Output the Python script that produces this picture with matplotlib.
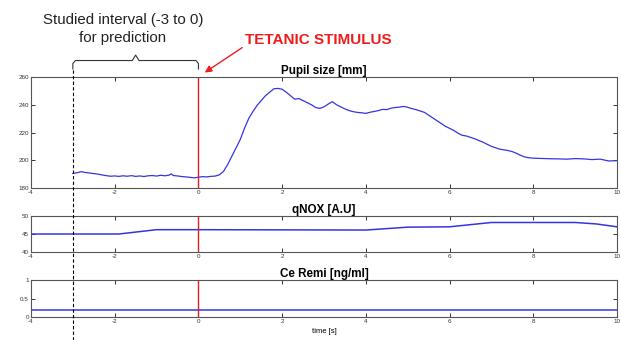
import matplotlib
matplotlib.use("Agg")
import matplotlib.pyplot as plt
import matplotlib.transforms as mtransforms
from matplotlib.lines import Line2D

plt.rcParams['font.family'] = ['Liberation Sans', 'DejaVu Sans']
plt.rcParams['axes.unicode_minus'] = False

# pupil size [mm] against time [s]
pupil_t = [-3.0, -2.9, -2.8, -2.7, -2.6, -2.5, -2.4, -2.3, -2.2, -2.1, -2.0, -1.9, -1.8, -1.7,
           -1.6, -1.5, -1.4, -1.3, -1.2, -1.1, -1.0, -0.9, -0.8, -0.7, -0.65, -0.6, -0.5, -0.4,
           -0.3, -0.2, -0.1, 0.0, 0.1, 0.2, 0.3, 0.4, 0.5, 0.6, 0.7, 0.8, 0.9, 1.0, 1.1, 1.2,
           1.3, 1.4, 1.5, 1.6, 1.7, 1.8, 1.9, 2.0, 2.1, 2.2, 2.3, 2.4, 2.5, 2.6, 2.7, 2.8, 2.9,
           3.0, 3.1, 3.2, 3.3, 3.4, 3.5, 3.6, 3.7, 3.8, 3.9, 4.0, 4.1, 4.2, 4.3, 4.4, 4.5, 4.6,
           4.7, 4.8, 4.9, 5.0, 5.1, 5.2, 5.3, 5.4, 5.5, 5.6, 5.7, 5.8, 5.9, 6.0, 6.1, 6.2, 6.3,
           6.4, 6.5, 6.6, 6.7, 6.8, 6.9, 7.0, 7.1, 7.2, 7.3, 7.4, 7.5, 7.6, 7.7, 7.8, 7.9, 8.0,
           8.2, 8.4, 8.6, 8.8, 9.0, 9.2, 9.4, 9.6, 9.8, 10.0]
pupil_v = [190.5, 191.0, 191.8, 191.2, 190.8, 190.4, 190.0, 189.4, 188.9, 188.5, 188.7, 188.4,
           188.8, 188.5, 188.9, 188.4, 188.7, 188.3, 188.8, 189.0, 188.6, 189.2, 188.8, 189.3,
           190.2, 189.0, 188.7, 188.3, 188.0, 187.7, 187.3, 187.8, 188.2, 188.0, 188.4, 188.6,
           189.5, 192.0, 197.0, 203.0, 209.0, 215.0, 223.0, 230.0, 235.0, 239.5, 243.0, 246.5,
           249.0, 251.5, 251.8, 251.2, 249.0, 246.5, 244.0, 244.5, 243.0, 241.5, 240.0, 238.0,
           237.4, 238.5, 240.5, 242.2, 240.0, 238.5, 237.0, 235.8, 235.0, 234.5, 234.2, 233.8,
           234.6, 235.2, 235.8, 236.7, 236.5, 237.5, 238.0, 238.3, 238.8, 238.2, 237.2, 236.5,
           235.5, 234.5, 232.5, 230.5, 228.5, 226.5, 224.5, 223.0, 221.5, 219.5, 218.0, 217.5,
           216.5, 215.5, 214.2, 213.0, 211.5, 210.0, 209.0, 208.0, 207.5, 207.0, 206.2, 205.0,
           203.5, 202.3, 201.8, 201.5, 201.3, 201.1, 201.0, 200.8, 201.2, 201.0, 200.5, 200.8,
           199.5, 199.7]

# qNOX [A.U]
qnox_t = [-4.0, -1.9, -1.0, 0.0, 4.0, 4.5, 5.0, 6.0, 6.5, 7.0, 9.0, 9.5, 10.0]
qnox_v = [45.0, 45.0, 46.2, 46.2, 46.1, 46.5, 46.9, 47.0, 47.6, 48.2, 48.2, 47.8, 47.0]

# Ce Remi [ng/ml]
remi_t = [-4.0, 10.0]
remi_v = [0.2, 0.2]

xticks = [-4, -2, 0, 2, 4, 6, 8, 10]
stim_t = 0.0
interval_start = -3.0

fig = plt.figure(figsize=(6.21, 3.40), dpi=100)
ax1 = fig.add_axes([0.0499, 0.447, 0.9437, 0.3265])
ax2 = fig.add_axes([0.0499, 0.2588, 0.9437, 0.1059])
ax3 = fig.add_axes([0.0499, 0.0676, 0.9437, 0.1088])

panels = [
    (ax1, pupil_t, pupil_v, (180, 260), [180, 200, 220, 240, 260], "Pupil size [mm]"),
    (ax2, qnox_t, qnox_v, (40, 50), [40, 45, 50], "qNOX [A.U]"),
    (ax3, remi_t, remi_v, (0, 1), [0, 0.5, 1], "Ce Remi [ng/ml]"),
]

for ax, t, v, ylim, yt, title in panels:
    ax.plot(t, v, color="#3535e0", lw=0.9 if ax is ax1 else 1.1)
    ax.axvline(stim_t, color="#e02020", lw=1.0)
    ax.set_xlim(-4, 10)
    ax.set_ylim(*ylim)
    ax.set_xticks(xticks)
    ax.set_yticks(yt)
    ax.set_yticklabels([f"{y:g}" for y in yt])
    ax.tick_params(direction="in", length=3, width=0.7, labelsize=4.5,
                   top=True, right=True, pad=1.5, colors="#333333")
    for s in ax.spines.values():
        s.set_color("#555555")
        s.set_linewidth(0.8)
    ax.set_title(title, fontsize=8.4, fontweight="bold", pad=2.5)

ax3.set_xlabel("time [s]", fontsize=5.5, labelpad=3)

# dashed marker at the start of the studied interval, across all panels
trans = mtransforms.blended_transform_factory(ax1.transData, fig.transFigure)
fig.add_artist(Line2D([interval_start, interval_start], [0.0, 0.797], transform=trans,
                      color="black", lw=0.8, ls=(0, (3, 2))))

# curly brace over the studied interval
mid = (interval_start + stim_t) / 2
bx = [interval_start, interval_start, interval_start + 0.06, mid - 0.08, mid, mid + 0.08,
      stim_t - 0.06, stim_t, stim_t]
by = [0.797, 0.813, 0.822, 0.822, 0.838, 0.822, 0.822, 0.813, 0.797]
fig.add_artist(Line2D(bx, by, transform=trans, color="#333333", lw=0.8))

fig.text(0.198, 0.940, "Studied interval (-3 to 0)", ha="center", va="center",
         fontsize=10.8, color="#222222")
fig.text(0.198, 0.888, "for prediction", ha="center", va="center",
         fontsize=10.8, color="#222222")

fig.text(0.394, 0.882, "TETANIC STIMULUS", ha="left", va="center",
         fontsize=11, fontweight="bold", color="#ee1c1c")
ax1.annotate("", xy=(0.15, 1.04), xycoords=("data", "axes fraction"),
             xytext=(0.39, 0.860), textcoords="figure fraction",
             arrowprops=dict(arrowstyle="-|>", color="#ee1c1c", lw=1.0,
                             mutation_scale=10, shrinkA=0, shrinkB=0))

fig.savefig("out.png", dpi=100)
